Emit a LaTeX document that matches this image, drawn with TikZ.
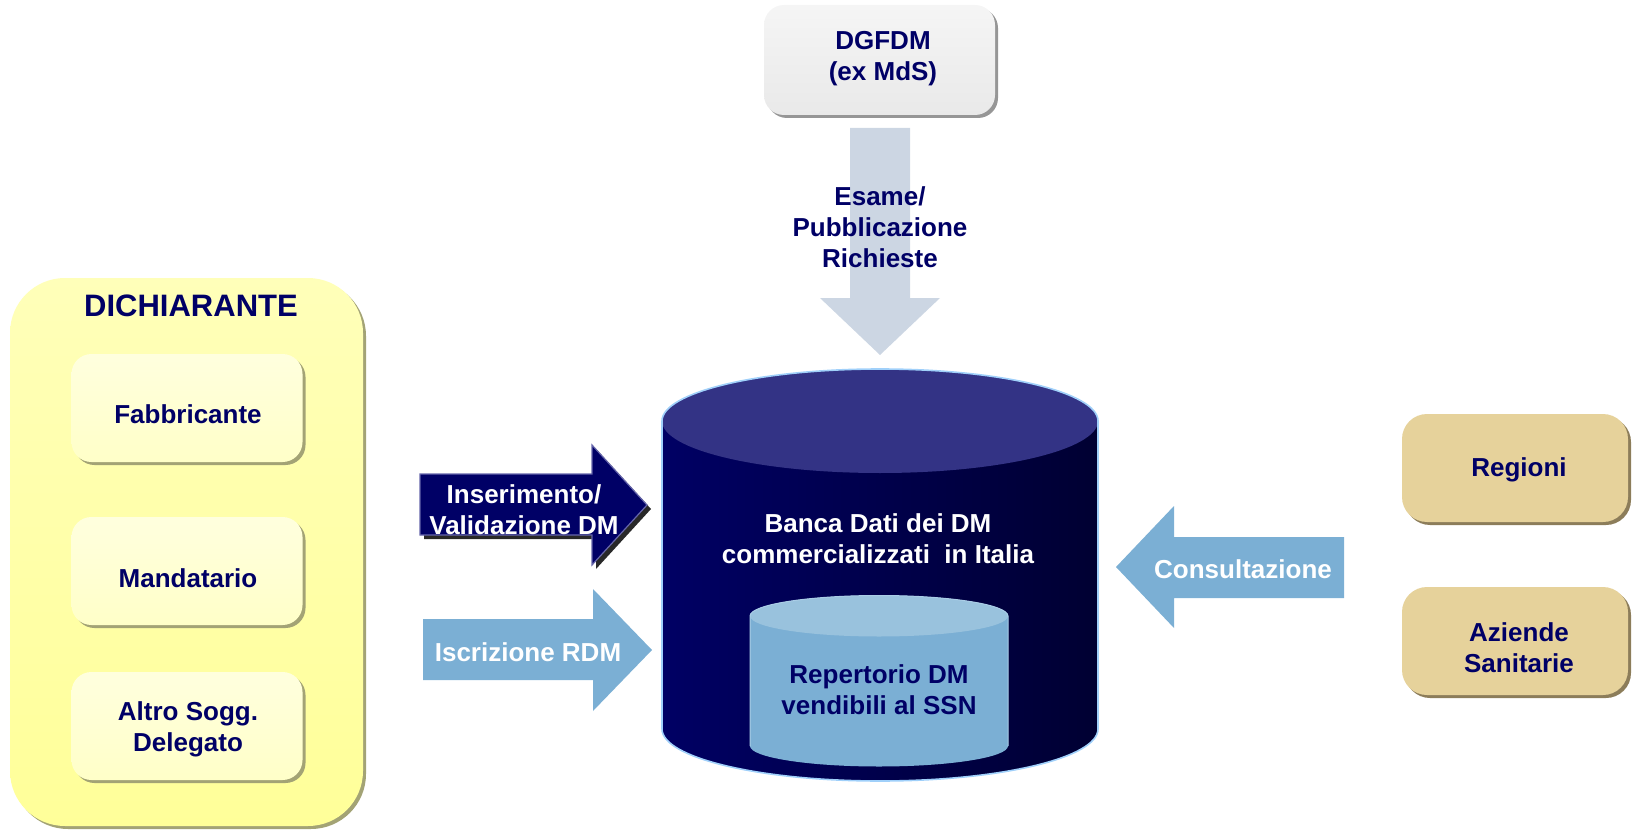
\documentclass[tikz,border=0pt]{standalone}
\usepackage{fontspec}
\setmainfont{Liberation Sans}
\usetikzlibrary{shadows}
\definecolor{navytxt}{RGB}{0,0,102}
\definecolor{yelout}{RGB}{255,255,153}
\definecolor{yeloutlt}{RGB}{255,255,185}
\definecolor{yelin}{RGB}{255,255,200}
\definecolor{yelinlt}{RGB}{255,255,222}
\definecolor{yelshadow}{RGB}{163,163,117}
\definecolor{greybox}{RGB}{233,233,233}
\definecolor{greyboxlt}{RGB}{245,245,245}
\definecolor{greyshadow}{RGB}{150,150,150}
\definecolor{arrowgrey}{RGB}{204,214,227}
\definecolor{lightblue}{RGB}{123,175,212}
\definecolor{lightbluetop}{RGB}{153,194,221}
\definecolor{lightbluerim}{RGB}{170,205,230}
\definecolor{cyltop}{RGB}{51,51,133}
\definecolor{cylleft}{RGB}{0,0,100}
\definecolor{cylright}{RGB}{0,0,50}
\definecolor{cylrim}{RGB}{160,208,250}
\definecolor{tanbox}{RGB}{230,210,155}
\definecolor{tanshadow}{RGB}{140,125,90}
\definecolor{insoutline}{RGB}{102,102,170}
\definecolor{insshadow}{RGB}{40,40,40}
\tikzset{
  lbl/.style={font=\bfseries\fontsize{26}{31}\selectfont, text=navytxt, align=center, inner sep=0pt},
  wlbl/.style={lbl, text=white},
  bigttl/.style={lbl, font=\bfseries\fontsize{31}{36}\selectfont},
  outerbox/.style={rounded corners=55pt, top color=yeloutlt, bottom color=yelout,
    drop shadow={shadow xshift=3pt, shadow yshift=-3pt, fill=yelshadow, opacity=1},
    minimum width=353pt, minimum height=548pt, inner sep=0pt},
  innerbox/.style={rounded corners=20pt, top color=yelinlt, bottom color=yelin,
    drop shadow={shadow xshift=3pt, shadow yshift=-3pt, fill=yelshadow, opacity=1},
    minimum width=231pt, minimum height=108pt, inner sep=0pt},
  greyboxst/.style={rounded corners=20pt, top color=greyboxlt, bottom color=greybox,
    drop shadow={shadow xshift=3pt, shadow yshift=-3pt, fill=greyshadow, opacity=1},
    minimum width=231pt, minimum height=110pt, inner sep=0pt},
  tanboxst/.style={rounded corners=25pt, fill=tanbox,
    drop shadow={shadow xshift=3pt, shadow yshift=-3pt, fill=tanshadow, opacity=1},
    minimum width=226pt, minimum height=108pt, inner sep=0pt},
}
\begin{document}
\begin{tikzpicture}[x=1pt,y=-1pt]
\useasboundingbox (0,0) rectangle (1634,832);

% DICHIARANTE group
\node[outerbox] (dich) at (186.5,552) {};
\node[bigttl] (dichtxt) at (191,306) {DICHIARANTE};
\node[innerbox] (fab) at (187,408) {};
\node[lbl] (fabtxt) at (188,414) {Fabbricante};
\node[innerbox] (man) at (187,571) {};
\node[lbl] (mantxt) at (188,578) {Mandatario};
\node[innerbox] (alt) at (187,726) {};
\node[lbl] (alttxt) at (188,729) {Altro Sogg.\\Delegato};

% DGFDM
\node[greyboxst] (dgf) at (879.5,60) {};
\node[lbl] (dgftxt) at (883,59) {DGFDM\\(ex MdS)};

% down arrow
\fill[arrowgrey] (850,128) -- (910,128) -- (910,298) -- (940,298) -- (880,355)
  -- (820,298) -- (850,298) -- cycle;
\node[lbl] (esame) at (880,227) {Esame/\\Pubblicazione\\Richieste};

% big cylinder
\shade[left color=cylleft, right color=cylright]
  (662,421) -- (662,729) arc[start angle=180, end angle=360, x radius=218pt, y radius=52pt]
  -- (1098,421) arc[start angle=0, end angle=180, x radius=218pt, y radius=52pt] -- cycle;
\fill[cyltop] (880,421) ellipse[x radius=218pt, y radius=52pt];
\draw[cylrim, line width=1.6pt]
  (662,729) -- (662,421) arc[start angle=180, end angle=0, x radius=218pt, y radius=52pt]
  -- (1098,729) arc[start angle=360, end angle=180, x radius=218pt, y radius=52pt];
\node[wlbl] (banca) at (878,539) {Banca Dati dei DM\\commercializzati\ \ in Italia};

% small cylinder
\fill[lightblue]
  (750,616) -- (750,746) arc[start angle=180, end angle=360, x radius=129pt, y radius=20.5pt]
  -- (1008,616) arc[start angle=0, end angle=180, x radius=129pt, y radius=20.5pt] -- cycle;
\fill[lightbluetop] (879,616) ellipse[x radius=129pt, y radius=20.5pt];
\draw[lightbluerim, line width=1pt]
  (750,746) -- (750,616) arc[start angle=180, end angle=0, x radius=129pt, y radius=20.5pt]
  -- (1008,746);
\node[lbl] (rep) at (879,690) {Repertorio DM\\vendibili al SSN};

% Inserimento arrow
\fill[insshadow] (424,478) -- (596,478) -- (596,449) -- (651,509) -- (596,569)
  -- (596,539) -- (424,539) -- cycle;
\filldraw[fill=navytxt, draw=insoutline, line width=1.2pt]
  (420,474) -- (592,474) -- (592,445) -- (647,505) -- (592,565)
  -- (592,535) -- (420,535) -- cycle;
\node[wlbl] (ins) at (524,510) {Inserimento/\\Validazione DM};

% Iscrizione arrow
\fill[lightblue] (423,619) -- (593,619) -- (593,589) -- (652,650) -- (593,711)
  -- (593,680) -- (423,680) -- cycle;
\node[wlbl] (isc) at (528,652) {Iscrizione RDM};

% Consultazione arrow
\fill[lightblue] (1344,537) -- (1174,537) -- (1174,506) -- (1116,567) -- (1174,628)
  -- (1174,598) -- (1344,598) -- cycle;
\node[wlbl] (cons) at (1243,569) {Consultazione};

% right boxes
\node[tanboxst] (reg) at (1515,468) {};
\node[lbl] (regtxt) at (1519,470) {Regioni};
\node[tanboxst] (azi) at (1515,641) {};
\node[lbl] (azitxt) at (1519,648) {Aziende\\Sanitarie};
\end{tikzpicture}
\end{document}
